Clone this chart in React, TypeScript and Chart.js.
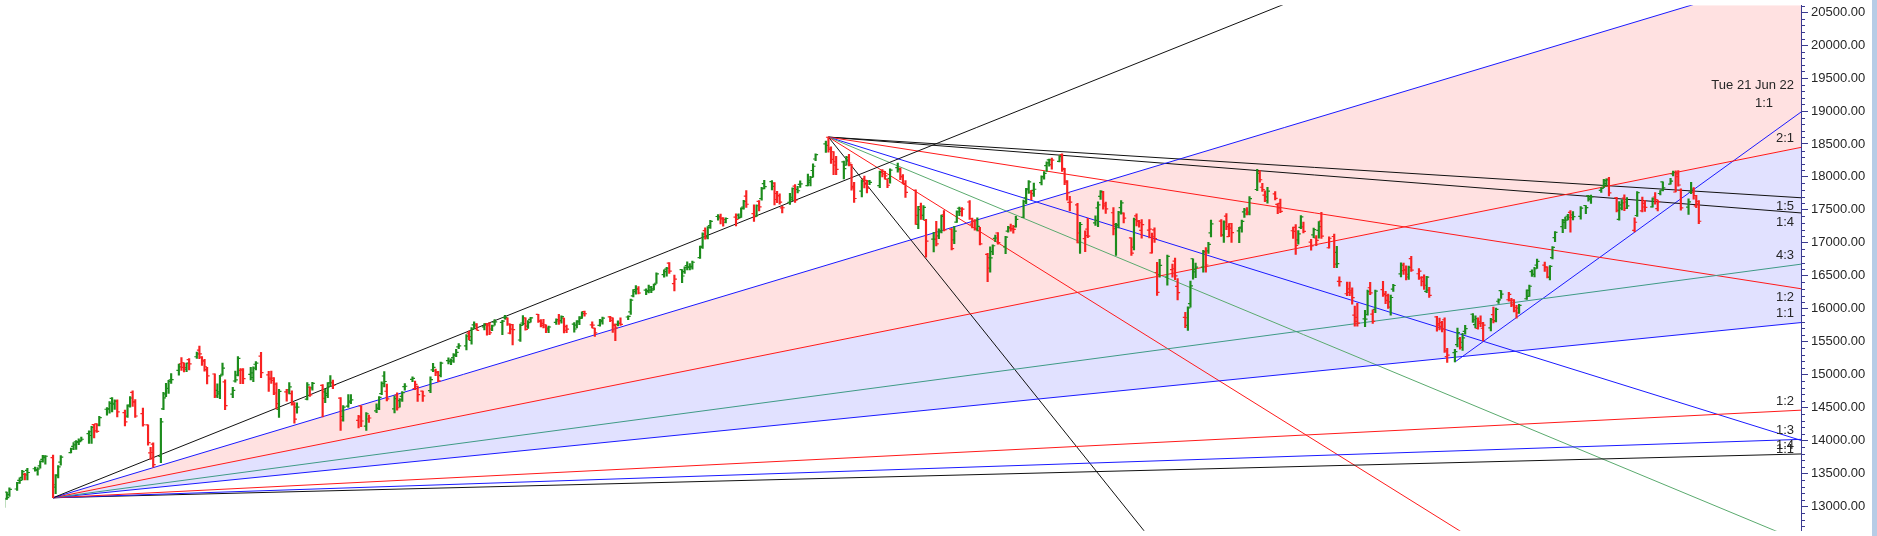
import React, { useEffect, useRef } from 'react';
import { Chart, registerables } from 'chart.js';

Chart.register(...registerables);

// x axis: calendar days counted from Mon 21 Dec 2020 (day 0)
const EPOCH_UTC = Date.UTC(2020, 11, 21);
const X_MIN = -18.64;
const X_MAX = 680.8;
const Y_MIN = 12629.5;
const Y_MAX = 20605.7;
const Y_TICKS = [13000, 13500, 14000, 14500, 15000, 15500, 16000, 16500, 17000, 17500, 18000, 18500, 19000, 19500, 20000, 20500];
const Y_MINOR_STEP = 100;

// Weekly rows: [monday, mon, tue, wed, thu, fri]; each day [open, high, low, close], null = holiday
const WEEKS_2020 = [
  ['2020-11-30', null, [13062, 13128, 12962, 13109], [13122, 13128, 12983, 13114], [13215, 13216, 13107, 13134], [13177, 13280, 13152, 13258]],
  ['2020-12-07', [13264, 13366, 13241, 13356], [13394, 13435, 13347, 13393], [13441, 13548, 13400, 13529], [13485, 13503, 13400, 13478], [13545, 13579, 13402, 13514]],
  ['2020-12-14', [13571, 13597, 13533, 13558], [13547, 13588, 13473, 13567], [13614, 13692, 13580, 13682], [13713, 13773, 13671, 13740], [13764, 13772, 13639, 13761]],
  ['2020-12-21', [13741, 13778, 13131, 13328], [13292, 13484, 13192, 13466], [13473, 13619, 13432, 13601], [13672, 13771, 13626, 13749], null],
  ['2020-12-28', [13815, 13885, 13811, 13873], [13910, 13967, 13860, 13932], [13981, 13997, 13864, 13982], [13971, 14024, 13937, 13982], [13997, 14050, 13992, 14019]],
];

const WEEKS_2021_H1 = [
  ['2021-01-04', [14104, 14148, 13954, 14133], [14076, 14215, 13954, 14199], [14240, 14244, 14039, 14146], [14253, 14256, 14123, 14137], [14234, 14367, 14222, 14347]],
  ['2021-01-11', [14474, 14498, 14383, 14485], [14474, 14590, 14413, 14564], [14639, 14653, 14435, 14565], [14550, 14617, 14472, 14596], [14594, 14618, 14357, 14434]],
  ['2021-01-18', [14422, 14460, 14222, 14281], [14371, 14540, 14351, 14522], [14538, 14666, 14505, 14645], [14730, 14753, 14517, 14590], [14583, 14620, 14351, 14372]],
  ['2021-01-25', [14408, 14492, 14218, 14239], null, [14237, 14237, 13929, 13967], [13811, 13898, 13713, 13818], [13946, 13966, 13596, 13635]],
  ['2021-02-01', [13758, 14336, 13662, 14281], [14481, 14731, 14469, 14648], [14706, 14868, 14664, 14790], [14789, 14913, 14714, 14895], [14919, 15015, 14865, 14924]],
  ['2021-02-08', [15064, 15160, 14990, 15116], [15164, 15257, 15065, 15109], [15180, 15180, 15042, 15107], [15081, 15174, 15044, 15173], [15228, 15244, 15071, 15163]],
  ['2021-02-15', [15271, 15340, 15244, 15315], [15371, 15432, 15243, 15314], [15264, 15275, 15138, 15209], [15208, 15231, 15051, 15119], [15074, 15111, 14857, 14982]],
  ['2021-02-22', [15009, 15010, 14651, 14676], [14759, 14860, 14651, 14708], [14737, 14987, 14635, 14982], [15005, 15176, 14992, 15098], [14888, 14920, 14467, 14529]],
  ['2021-03-01', [14703, 14806, 14651, 14762], [14903, 15052, 14885, 14920], [14993, 15273, 14980, 15246], [15064, 15092, 14863, 15081], [15066, 15092, 14863, 14938]],
  ['2021-03-08', [15002, 15111, 14919, 14956], [15025, 15117, 14891, 15098], [15157, 15196, 15072, 15175], null, [15279, 15336, 14953, 15031]],
  ['2021-03-15', [14996, 15051, 14745, 14929], [14946, 15054, 14865, 14911], [14947, 14956, 14696, 14721], [14855, 14875, 14478, 14558], [14471, 14776, 14350, 14745]],
  ['2021-03-22', [14737, 14778, 14597, 14736], [14768, 14878, 14707, 14814], [14712, 14752, 14535, 14549], [14571, 14575, 14264, 14324], [14506, 14572, 14414, 14507]],
  ['2021-03-29', null, [14628, 14877, 14617, 14845], [14811, 14813, 14670, 14691], [14798, 14883, 14762, 14868], null],
  ['2021-04-05', [14837, 14850, 14359, 14638], [14737, 14779, 14573, 14684], [14716, 14879, 14649, 14819], [14875, 14984, 14822, 14873], [14882, 14918, 14785, 14835]],
  ['2021-04-12', [14644, 14653, 14151, 14310], [14364, 14528, 14293, 14505], null, [14522, 14697, 14500, 14581], [14599, 14697, 14560, 14617]],
  ['2021-04-19', [14306, 14383, 14191, 14359], [14526, 14527, 14208, 14296], null, [14219, 14424, 14152, 14406], [14326, 14384, 14273, 14341]],
  ['2021-04-26', [14449, 14557, 14421, 14485], [14493, 14667, 14468, 14653], [14710, 14890, 14694, 14865], [14979, 15044, 14814, 14895], [14747, 14855, 14602, 14631]],
  ['2021-05-03', [14481, 14673, 14417, 14634], [14687, 14723, 14461, 14497], [14604, 14637, 14506, 14618], [14668, 14743, 14591, 14725], [14816, 14863, 14765, 14823]],
  ['2021-05-10', [14928, 14967, 14892, 14942], [14789, 14900, 14771, 14851], [14823, 14824, 14592, 14697], null, [14749, 14749, 14591, 14677]],
  ['2021-05-17', [14756, 14966, 14725, 14923], [15073, 15170, 15044, 15109], [15058, 15082, 14984, 15031], [15042, 15049, 14894, 14906], [14987, 15190, 14963, 15175]],
  ['2021-05-24', [15211, 15256, 15163, 15197], [15218, 15241, 15151, 15208], [15258, 15319, 15183, 15301], [15292, 15384, 15272, 15338], [15421, 15469, 15394, 15436]],
  ['2021-05-31', [15437, 15606, 15374, 15583], [15630, 15660, 15528, 15575], [15520, 15715, 15461, 15691], [15756, 15800, 15702, 15738], [15765, 15773, 15678, 15670]],
  ['2021-06-07', [15725, 15773, 15678, 15752], [15773, 15779, 15598, 15741], [15766, 15789, 15606, 15635], [15692, 15752, 15667, 15738], [15796, 15835, 15749, 15799]],
  ['2021-06-14', [15791, 15823, 15606, 15812], [15866, 15901, 15842, 15869], [15847, 15862, 15746, 15768], [15629, 15769, 15616, 15691], [15757, 15761, 15450, 15683]],
  ['2021-06-21', [15525, 15765, 15505, 15746], [15783, 15896, 15754, 15773], [15862, 15862, 15673, 15687], [15737, 15821, 15702, 15790], [15839, 15870, 15794, 15860]],
  ['2021-06-28', [15915, 15915, 15792, 15814], [15807, 15835, 15724, 15748], [15776, 15839, 15708, 15722], [15755, 15755, 15635, 15680], [15706, 15738, 15636, 15722]],
];

const WEEKS_2021_H2 = [
  ['2021-07-05', [15793, 15845, 15763, 15834], [15813, 15914, 15760, 15818], [15819, 15893, 15779, 15879], [15856, 15857, 15632, 15727], [15673, 15751, 15635, 15690]],
  ['2021-07-12', [15766, 15789, 15644, 15692], [15750, 15820, 15707, 15812], [15800, 15881, 15758, 15854], [15872, 15952, 15852, 15924], [15956, 15962, 15885, 15923]],
  ['2021-07-19', [15754, 15799, 15708, 15752], [15704, 15704, 15578, 15632], null, [15747, 15840, 15735, 15824], [15803, 15871, 15767, 15856]],
  ['2021-07-26', [15875, 15886, 15803, 15824], [15860, 15860, 15641, 15746], [15764, 15767, 15514, 15709], [15762, 15817, 15737, 15778], [15776, 15862, 15746, 15763]],
  ['2021-08-02', [15874, 15892, 15834, 15885], [15951, 16146, 15914, 16130], [16195, 16290, 16177, 16258], [16288, 16350, 16221, 16295], [16304, 16336, 16223, 16238]],
  ['2021-08-09', [16281, 16301, 16211, 16258], [16273, 16360, 16240, 16281], [16327, 16339, 16244, 16282], [16303, 16375, 16286, 16364], [16386, 16543, 16385, 16529]],
  ['2021-08-16', [16518, 16589, 16480, 16563], [16600, 16628, 16495, 16614], [16691, 16701, 16535, 16569], null, [16382, 16509, 16270, 16450]],
  ['2021-08-23', [16592, 16592, 16395, 16496], [16562, 16635, 16535, 16625], [16655, 16712, 16589, 16634], [16627, 16683, 16589, 16636], [16643, 16722, 16600, 16705]],
  ['2021-08-30', [16775, 16951, 16764, 16931], [16947, 17153, 16915, 17132], [17185, 17226, 17055, 17076], [17095, 17245, 17059, 17234], [17262, 17340, 17220, 17324]],
  ['2021-09-06', [17399, 17429, 17345, 17377], [17401, 17436, 17287, 17362], [17375, 17383, 17254, 17353], [17312, 17379, 17302, 17369], null],
  ['2021-09-13', [17390, 17438, 17255, 17355], [17420, 17438, 17367, 17380], [17387, 17532, 17386, 17519], [17540, 17644, 17510, 17630], [17709, 17792, 17537, 17585]],
  ['2021-09-20', [17443, 17578, 17326, 17396], [17400, 17578, 17400, 17562], [17630, 17640, 17483, 17546], [17670, 17843, 17646, 17823], [17897, 17947, 17819, 17853]],
  ['2021-09-27', [17927, 17943, 17803, 17856], [17906, 17912, 17576, 17748], [17657, 17781, 17609, 17711], [17718, 17742, 17585, 17618], [17531, 17557, 17452, 17532]],
  ['2021-10-04', [17615, 17750, 17581, 17691], [17661, 17833, 17640, 17822], [17861, 17884, 17613, 17646], [17810, 17857, 17757, 17790], [17886, 17941, 17840, 17895]],
  ['2021-10-11', [17867, 18042, 17864, 17946], [17916, 18009, 17865, 17992], [18097, 18197, 17996, 18162], [18272, 18350, 18248, 18338], null],
  ['2021-10-18', [18500, 18543, 18373, 18477], [18602, 18604, 18377, 18418], [18439, 18458, 18206, 18267], [18382, 18384, 18034, 18179], [18230, 18314, 18034, 18115]],
  ['2021-10-25', [18229, 18241, 17968, 18126], [18177, 18311, 18177, 18268], [18295, 18342, 18167, 18211], [18187, 18190, 17798, 17857], [17834, 17916, 17614, 17672]],
  ['2021-11-01', [17783, 17954, 17697, 17930], [17970, 18012, 17832, 17889], [17947, 17947, 17757, 17829], [17935, 17947, 17884, 17916], null],
  ['2021-11-08', [17867, 18087, 17836, 18069], [18084, 18112, 17998, 18045], [18084, 18084, 17967, 18017], [17967, 17968, 17838, 17873], [17977, 18123, 17905, 18102]],
  ['2021-11-15', [18141, 18210, 18071, 18109], [18128, 18133, 17959, 17999], [18008, 18035, 17892, 17899], [17890, 17946, 17688, 17765], null],
  ['2021-11-22', [17796, 17805, 17280, 17417], [17281, 17553, 17216, 17503], [17550, 17601, 17354, 17416], [17417, 17564, 17351, 17537], [17339, 17356, 16782, 17026]],
  ['2021-11-29', [17056, 17160, 16862, 17054], [17052, 17324, 16951, 16983], [17104, 17213, 17064, 17167], [17183, 17420, 17149, 17402], [17424, 17490, 17181, 17197]],
  ['2021-12-06', [17209, 17216, 16891, 16913], [17044, 17251, 16987, 17177], [17315, 17484, 17308, 17470], [17524, 17543, 17412, 17517], [17476, 17534, 17406, 17512]],
  ['2021-12-13', [17619, 17639, 17355, 17368], [17283, 17376, 17225, 17325], [17324, 17351, 17192, 17221], [17335, 17379, 17180, 17248], [17183, 17236, 16966, 16985]],
  ['2021-12-20', [16824, 16840, 16410, 16615], [16773, 16937, 16554, 16771], [16865, 16971, 16819, 16955], [17067, 17119, 17016, 17073], [17149, 17155, 16978, 17004]],
  ['2021-12-27', [16937, 17098, 16834, 17087], [17177, 17250, 17161, 17233], [17221, 17285, 17175, 17214], [17212, 17264, 17146, 17204], [17244, 17400, 17238, 17354]],
];

const WEEKS_2022 = [
  ['2022-01-03', [17388, 17647, 17383, 17625], [17681, 17827, 17593, 17805], [17820, 17944, 17748, 17925], [17769, 17798, 17655, 17746], [17797, 17905, 17704, 17813]],
  ['2022-01-10', [17913, 18017, 17879, 18004], [18003, 18081, 17965, 18055], [18170, 18227, 18082, 18212], [18257, 18272, 18163, 18258], [18185, 18286, 18119, 18255]],
  ['2022-01-17', [18235, 18321, 18228, 18308], [18337, 18350, 18085, 18113], [18129, 18129, 17884, 17938], [17921, 17943, 17648, 17757], [17613, 17707, 17485, 17617]],
  ['2022-01-24', [17575, 17599, 16997, 17149], [17001, 17309, 16837, 17278], null, [17062, 17182, 16866, 17110], [17208, 17373, 17077, 17102]],
  ['2022-01-31', [17301, 17410, 17264, 17340], [17529, 17622, 17244, 17576], [17706, 17794, 17658, 17780], [17767, 17781, 17511, 17560], [17591, 17617, 17445, 17516]],
  ['2022-02-07', [17456, 17536, 17119, 17214], [17279, 17294, 16810, 17266], [17272, 17477, 17225, 17464], [17535, 17640, 17433, 17606], [17451, 17455, 17303, 17375]],
  ['2022-02-14', [17076, 17076, 16809, 16843], [16934, 17376, 16893, 17352], [17408, 17440, 17255, 17323], [17334, 17340, 17239, 17304], [17190, 17351, 17071, 17276]],
  ['2022-02-21', [17193, 17352, 17075, 17207], [16847, 17148, 16844, 17092], [17195, 17228, 17005, 17063], [16549, 16705, 16203, 16248], [16515, 16748, 16478, 16658]],
  ['2022-02-28', [16481, 16815, 16356, 16794], null, [16594, 16678, 16478, 16606], [16723, 16768, 16442, 16498], [16340, 16456, 16134, 16245]],
  ['2022-03-07', [15867, 15945, 15711, 15863], [15747, 16029, 15671, 16013], [16078, 16418, 16023, 16345], [16758, 16758, 16447, 16595], [16558, 16694, 16470, 16630]],
  ['2022-03-14', [16633, 16887, 16555, 16871], [16849, 16927, 16555, 16663], [16876, 17007, 16837, 16976], [17150, 17344, 17091, 17287], null],
  ['2022-03-21', [17329, 17353, 17096, 17118], [17120, 17334, 17006, 17316], [17405, 17443, 17199, 17246], [17094, 17292, 17092, 17223], [17289, 17295, 17004, 17153]],
  ['2022-03-28', [17181, 17235, 17003, 17222], [17237, 17343, 17161, 17326], [17468, 17522, 17387, 17498], [17437, 17535, 17422, 17465], [17437, 17703, 17422, 17670]],
  ['2022-04-04', [17809, 18114, 17791, 18053], [18080, 18095, 17921, 17957], [17843, 17901, 17779, 17808], [17723, 17787, 17623, 17639], [17698, 17842, 17600, 17784]],
  ['2022-04-11', [17741, 17779, 17650, 17675], [17584, 17597, 17442, 17530], [17599, 17663, 17457, 17476], null, null],
  ['2022-04-18', [17183, 17237, 17067, 17174], [17234, 17275, 16824, 16959], [17045, 17186, 16978, 17136], [17234, 17414, 17216, 17392], [17242, 17315, 17149, 17172]],
  ['2022-04-25', [17009, 17054, 16888, 16953], [17121, 17223, 17077, 17201], [17073, 17110, 16958, 17038], [17189, 17322, 17072, 17245], [17329, 17462, 17065, 17102]],
  ['2022-05-02', [16925, 17092, 16917, 17069], null, [17096, 17133, 16623, 16677], [16855, 16945, 16623, 16683], [16415, 16484, 16341, 16411]],
  ['2022-05-09', [16227, 16404, 16197, 16301], [16248, 16404, 16197, 16240], [16270, 16318, 16067, 16167], [15903, 16041, 15736, 15808], [15867, 16083, 15735, 15782]],
  ['2022-05-16', [15845, 15977, 15728, 15842], [15912, 16284, 15900, 16259], [16318, 16399, 16211, 16240], [15918, 15984, 15775, 15809], [15990, 16284, 15940, 16266]],
  ['2022-05-23', [16290, 16414, 16185, 16215], [16225, 16262, 16078, 16125], [16197, 16223, 16006, 16025], [16105, 16205, 15903, 16170], [16296, 16370, 16262, 16352]],
  ['2022-05-30', [16527, 16695, 16484, 16662], [16578, 16691, 16521, 16585], [16594, 16649, 16438, 16523], [16481, 16646, 16443, 16628], [16761, 16794, 16567, 16584]],
  ['2022-06-06', [16530, 16610, 16444, 16570], [16469, 16487, 16347, 16416], [16474, 16514, 16293, 16356], [16263, 16492, 16243, 16479], [16283, 16324, 16172, 16202]],
  ['2022-06-13', [15877, 15886, 15659, 15774], [15750, 15858, 15679, 15732], [15788, 15807, 15648, 15692], [15832, 15863, 15335, 15360], [15272, 15400, 15183, 15294]],
  ['2022-06-20', [15334, 15382, 15191, 15350], [15455, 15707, 15419, 15638], [15545, 15565, 15385, 15413], [15491, 15628, 15368, 15557], [15657, 15749, 15615, 15699]],
  ['2022-06-27', [15916, 15927, 15793, 15832], [15757, 15892, 15710, 15850], [15701, 15861, 15688, 15799], [15775, 15890, 15728, 15780], [15703, 15793, 15511, 15752]],
  ['2022-07-04', [15710, 15852, 15661, 15835], [15909, 16025, 15785, 15810], [15818, 16011, 15800, 15989], [16113, 16150, 16081, 16133], [16273, 16275, 16157, 16220]],
  ['2022-07-11', [16136, 16248, 16115, 16216], [16127, 16158, 16031, 16058], [16130, 16140, 15950, 15967], [16018, 16050, 15858, 15938], [16010, 16066, 15927, 16049]],
  ['2022-07-18', [16151, 16287, 16142, 16279], [16187, 16359, 16187, 16341], [16562, 16588, 16490, 16521], [16523, 16626, 16483, 16606], [16661, 16752, 16610, 16719]],
  ['2022-07-25', [16662, 16707, 16564, 16632], [16632, 16636, 16467, 16484], [16475, 16653, 16438, 16642], [16774, 16944, 16756, 16930], [17079, 17172, 17018, 17158]],
  ['2022-08-01', [17244, 17356, 17154, 17340], [17310, 17392, 17215, 17345], [17403, 17431, 17348, 17388], [17463, 17490, 17162, 17382], [17423, 17474, 17348, 17397]],
  ['2022-08-08', [17402, 17548, 17360, 17525], null, [17566, 17566, 17442, 17535], [17711, 17719, 17631, 17659], [17679, 17724, 17597, 17698]],
  ['2022-08-15', null, [17797, 17839, 17764, 17825], [17868, 17965, 17835, 17944], [17898, 17969, 17861, 17956], [17966, 17992, 17710, 17758]],
  ['2022-08-22', [17683, 17690, 17467, 17491], [17357, 17625, 17345, 17577], [17525, 17654, 17498, 17605], [17679, 17727, 17488, 17523], [17619, 17685, 17519, 17559]],
  ['2022-08-29', [17188, 17380, 17166, 17312], [17414, 17777, 17401, 17760], null, [17485, 17695, 17468, 17543], [17598, 17643, 17476, 17539]],
  ['2022-09-05', [17546, 17683, 17540, 17666], [17695, 17764, 17587, 17655], [17519, 17650, 17484, 17624], [17748, 17792, 17726, 17798], [17924, 17925, 17786, 17833]],
  ['2022-09-12', [17890, 17980, 17889, 17936], [18044, 18089, 18015, 18070], [17771, 18092, 17771, 18004], [18046, 18096, 17861, 17877], [17796, 17820, 17497, 17531]],
  ['2022-09-19', [17540, 17667, 17429, 17622], [17770, 17919, 17744, 17816], [17766, 17838, 17663, 17718], [17560, 17722, 17532, 17630], [17593, 17642, 17291, 17327]],
];

// Gann fans: origin (day, price), price-per-day of the 1:1 angle, angle ratios and their labels
const FAN1_ORIGIN = [0, 13131];
const FAN1_UNIT = 3.905;
const FAN1_RATIOS = [4, 3, 2, 4 / 3, 1, 1 / 2, 1 / 3, 1 / 4];
const FAN1_LABELS = ['', '', '2:1', '4:3', '1:1', '1:2', '1:3', '1:4'];

const FAN2_ORIGIN = [302, 18604];
const FAN2_UNIT = -12.15;
const FAN2_RATIOS = [4, 2, 4 / 3, 1, 1 / 2, 1 / 4, 1 / 5];
const FAN2_LABELS = ['', '', '', '1:1', '1:2', '1:4', '1:5'];

const FAN3_ORIGIN = [546, 15191];
const FAN3_UNIT = 28.14;
const FAN3_RATIOS = [1];
const FAN3_LABELS = ['1:1'];
const FAN3_DATE = 'Tue 21 Jun 22';

// styles
const UP = '#1c8c1c';
const DOWN = '#f82222';
const BLACK = '#111111';
const BLUE = '#1a1aff';
const RED = '#ff1a1a';
const TEAL = '#3f9a86';
const GREEN = '#5aaa6e';
const PINK = 'rgba(255, 200, 200, 0.55)';
const LAVENDER = 'rgba(200, 200, 255, 0.55)';
const AXIS = '#3a3a90';
const TEXT = '#262626';
const FONT = '"Liberation Sans", Arial, sans-serif';
const FAN1_COLORS = [BLACK, BLUE, RED, TEAL, BLUE, RED, BLUE, BLACK];
const FAN2_COLORS = [BLACK, RED, GREEN, BLUE, RED, BLACK, BLACK];
const FAN3_COLORS = [BLUE];

function buildBars() {
  const rows = [...WEEKS_2020, ...WEEKS_2021_H1, ...WEEKS_2021_H2, ...WEEKS_2022];
  const bars: any[] = [];
  for (const row of rows) {
    const [y, m, d] = (row[0] as string).split('-').map(Number);
    const monday = (Date.UTC(y, m - 1, d) - EPOCH_UTC) / 86400000;
    for (let i = 1; i <= 5; i++) {
      const b = row[i] as number[] | null;
      if (!b) continue;
      bars.push({ x: monday + i - 1, o: b[0], h: b[1], l: b[2], c: b[3] });
    }
  }
  return bars;
}

function fanDatasets(origin, unit, ratios, labels, colors, side) {
  return ratios.map((r, i) => ({
    type: 'line',
    data: [
      { x: origin[0], y: origin[1] },
      { x: X_MAX, y: origin[1] + unit * r * (X_MAX - origin[0]) },
    ],
    borderColor: colors[i],
    borderWidth: 1,
    pointRadius: 0,
    tension: 0,
    fill: false,
    order: 2,
    fanLabel: labels[i] ? [[labels[i], 7, side * 9]] : null,
  }));
}

const fanLabelsPlugin = {
  id: 'fanLabels',
  afterDatasetsDraw(chart) {
    const { ctx, chartArea, scales } = chart;
    ctx.save();
    ctx.font = '13px ' + FONT;
    ctx.fillStyle = TEXT;
    ctx.textAlign = 'right';
    ctx.textBaseline = 'middle';
    chart.data.datasets.forEach((ds) => {
      if (!ds.fanLabel) return;
      const end = ds.data[ds.data.length - 1];
      const py = scales.y.getPixelForValue(end.y);
      ds.fanLabel.forEach(([text, dx, dy]) => ctx.fillText(text, chartArea.right - dx, py + dy));
    });
    ctx.restore();
  },
};

const minorTicksPlugin = {
  id: 'minorTicks',
  afterDraw(chart) {
    const { ctx } = chart;
    const ys = chart.scales.y;
    ctx.save();
    ctx.strokeStyle = AXIS;
    ctx.lineWidth = 1;
    for (let v = Math.ceil(ys.min / Y_MINOR_STEP) * Y_MINOR_STEP; v <= ys.max; v += Y_MINOR_STEP) {
      if (Y_TICKS.includes(v)) continue;
      const py = Math.round(ys.getPixelForValue(v)) + 0.5;
      ctx.beginPath();
      ctx.moveTo(ys.left, py);
      ctx.lineTo(ys.left + 4, py);
      ctx.stroke();
    }
    ctx.restore();
  },
};

export default function App() {
  const ref = useRef<HTMLCanvasElement>(null);

  useEffect(() => {
    const bars = buildBars();
    const colors = bars.map((b, i) => ((i === 0 ? b.c >= b.o : b.c >= bars[i - 1].c) ? UP : DOWN));

    const fan1 = fanDatasets(FAN1_ORIGIN, FAN1_UNIT, FAN1_RATIOS, FAN1_LABELS, FAN1_COLORS, -1);
    // shaded zones of the lower fan: 3:1 -> 2:1 pink, 2:1 -> 1:1 lavender
    fan1[1].fill = 2;
    fan1[1].backgroundColor = PINK;
    fan1[2].fill = 4;
    fan1[2].backgroundColor = LAVENDER;
    const fan2 = fanDatasets(FAN2_ORIGIN, FAN2_UNIT, FAN2_RATIOS, FAN2_LABELS, FAN2_COLORS, 1);
    const fan3 = fanDatasets(FAN3_ORIGIN, FAN3_UNIT, FAN3_RATIOS, FAN3_LABELS, FAN3_COLORS, -1);
    fan3[0].fanLabel = [[FAN3_LABELS[0], 28, -9], [FAN3_DATE, 7, -27]];

    const chart = new Chart(ref.current, {
      type: 'bar',
      data: {
        datasets: [
          ...fan1,
          ...fan2,
          ...fan3,
          {
            type: 'bar',
            data: bars.map((b) => ({ x: b.x, y: [b.l, b.h] })),
            backgroundColor: colors,
            borderWidth: 0,
            barThickness: 1.5,
            order: 0,
          },
          {
            type: 'line',
            data: bars.map((b) => ({ x: b.x, y: b.o })),
            showLine: false,
            pointStyle: 'dash',
            pointRotation: 180,
            pointRadius: 2.5,
            pointBorderWidth: 1.2,
            pointBorderColor: colors,
            pointBackgroundColor: colors,
            order: 0,
          },
          {
            type: 'line',
            data: bars.map((b) => ({ x: b.x, y: b.c })),
            showLine: false,
            pointStyle: 'dash',
            pointRotation: 0,
            pointRadius: 2.5,
            pointBorderWidth: 1.2,
            pointBorderColor: colors,
            pointBackgroundColor: colors,
            order: 0,
          },
        ],
      },
      options: {
        responsive: false,
        animation: false,
        events: [],
        layout: { padding: 0 },
        plugins: {
          legend: { display: false },
          tooltip: { enabled: false },
          filler: { drawTime: 'beforeDatasetsDraw' },
        },
        scales: {
          x: { type: 'linear', min: X_MIN, max: X_MAX, display: false, offset: false },
          y: {
            type: 'linear',
            position: 'right',
            min: Y_MIN,
            max: Y_MAX,
            grid: { drawOnChartArea: false, drawTicks: true, tickLength: 7, tickColor: AXIS, tickWidth: 1 },
            border: { display: true, color: AXIS, width: 1 },
            ticks: {
              autoSkip: false,
              padding: 3,
              color: TEXT,
              font: { family: FONT, size: 13 },
              callback: (v) => Number(v).toFixed(2),
            },
            afterBuildTicks: (s) => {
              s.ticks = Y_TICKS.map((v) => ({ value: v }));
            },
            afterFit: (s) => {
              s.width = 71;
              s.paddingTop = 0;
              s.paddingBottom = 0;
            },
          },
        },
      },
      plugins: [fanLabelsPlugin, minorTicksPlugin],
    });
    return () => chart.destroy();
  }, []);

  return (
    <div style={{ position: 'fixed', left: 0, top: 0, width: 1877, height: 536, background: '#ffffff', overflow: 'hidden' }}>
      <canvas ref={ref} width={1872} height={536} style={{ position: 'absolute', left: 0, top: 0, width: 1872, height: 536 }} />
      <div style={{ position: 'absolute', left: 1872, top: 0, width: 5, height: 536, background: '#b7cce6' }} />
    </div>
  );
}
